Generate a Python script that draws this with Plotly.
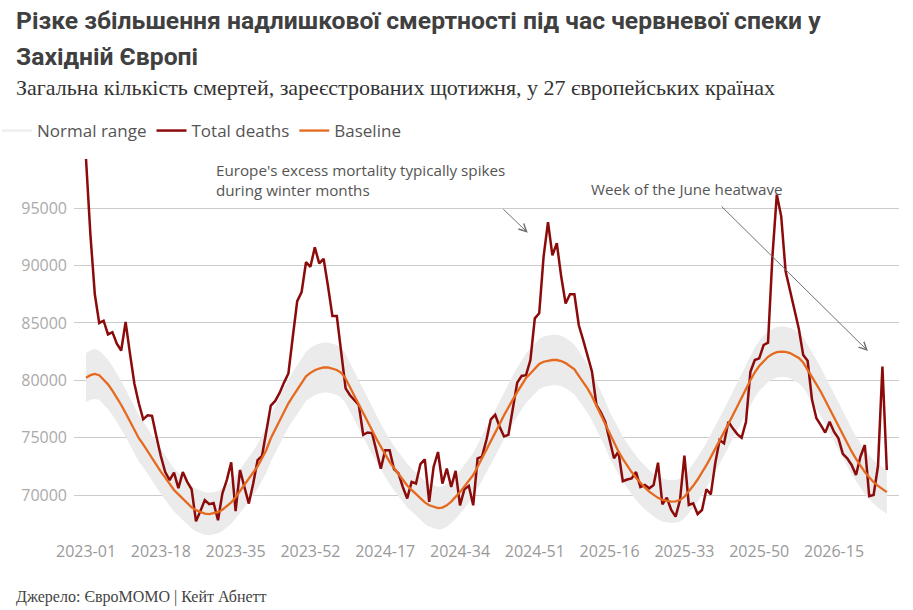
import plotly.graph_objects as go

# ---- data -------------------------------------------------------------
weeks = ([f"2023-{w:02d}" for w in range(1, 53)] +
         [f"2024-{w:02d}" for w in range(1, 53)] +
         [f"2025-{w:02d}" for w in range(1, 53)] +
         [f"2026-{w:02d}" for w in range(1, 28)])

total_deaths = [
    99300, 92700, 87500, 85000, 85200, 84000, 84200, 83200, 82600, 85100,
    82300, 79700, 78000, 76600, 76950, 76900, 75100, 73400, 72000, 71300,
    71950, 70600, 72000, 71150, 70500, 67700, 68600, 69560, 69200, 69300,
    67800, 70150, 71300, 72850, 68600, 72180, 70700, 69250, 71000, 73050,
    73400, 75800, 77800, 78200, 78900, 79800, 80600, 83800, 86900, 87700,
    90300, 89900, 91600, 90200, 90600, 88200, 85600, 85600, 82600, 79300,
    78700, 78300, 77850, 75250, 75450, 75400, 73900, 72300, 73900, 73900,
    72250, 71900, 70700, 69700, 71150, 71000, 72700, 73100, 69400, 72450,
    73750, 71000, 72300, 70700, 72100, 69100, 70500, 70800, 69100, 73200,
    73350, 74800, 76600, 77000, 75950, 75100, 75250, 77550, 79800, 80380,
    80450, 81770, 85400, 85850, 90800, 93800, 90900, 91950, 89050, 86700,
    87500, 87500, 84800, 83500, 82050, 80750, 77850, 77200, 76400, 74800,
    73200, 73780, 71200, 71350, 71450, 72000, 70700, 70870, 70580, 70870,
    72820, 69190, 69770, 68690, 68110, 69560, 73430, 69130, 69270, 68340,
    68690, 70500, 70060, 72760, 74790, 74500, 76390, 75810, 75310, 74990,
    76390, 80750, 81770, 81920, 83080, 83280, 90800, 96200, 94300, 89500,
    87800, 86200, 84500, 82200, 81700, 78300, 76700, 76100, 75440, 76390,
    75520, 74940, 73580, 73200, 72620, 71740, 73340, 74360, 69900, 70000,
    72550, 81190, 72180,
]

baseline = [
    80230, 80450, 80550, 80450, 80050, 79650, 79100, 78500, 77850, 77150,
    76400, 75650, 74950, 74420, 73810, 73200, 72590, 72040, 71510, 70970,
    70440, 70060, 69670, 69290, 68930, 68680, 68500, 68380, 68340, 68390,
    68500, 68720, 69000, 69350, 69800, 70350, 70850, 71350, 71900, 72500,
    73200, 73950, 74950, 75700, 76460, 77230, 78000, 78600, 79200, 79800,
    80350, 80650, 80880, 81030, 81120, 81120, 81040, 80900, 80650, 80150,
    79400, 78630, 77880, 77120, 76360, 75600, 74910, 74220, 73530, 72890,
    72350, 71820, 71290, 70830, 70440, 70060, 69670, 69350, 69100, 68950,
    68860, 68900, 69100, 69420, 69800, 70250, 70750, 71250, 71740, 72470,
    73190, 73920, 74650, 75420, 76180, 76950, 77680, 78320, 78970, 79620,
    80200, 80600, 81050, 81420, 81620, 81720, 81770, 81770, 81680, 81500,
    81220, 80950, 80380, 79830, 79280, 78600, 77800, 77000, 76200, 75250,
    74500, 73800, 73150, 72550, 72000, 71500, 71050, 70650, 70300, 70000,
    69750, 69580, 69470, 69420, 69440, 69560, 69850, 70300, 70800, 71350,
    71950, 72600, 73300, 74000, 74700, 75450, 76200, 76950, 77750, 78500,
    79250, 80000, 80700, 81250, 81700, 82050, 82300, 82450, 82500, 82480,
    82380, 82200, 81950, 81550, 80950, 80300, 79650, 79000, 78250, 77500,
    76700, 75950, 75200, 74500, 73800, 73150, 72550, 72000, 71550, 71120,
    70800, 70500, 70250,
]

# half-width of the "normal range" band around the baseline
normal_range_halfwidth = [
    2150, 2150, 2180, 2150, 2150, 2150, 2120, 2120, 2100, 2070,
    2040, 2040, 2020, 1990, 1990, 1960, 1960, 1930, 1930, 1910,
    1880, 1880, 1880, 1860, 1860, 1860, 1860, 1850, 1850, 1850,
    1860, 1860, 1860, 1860, 1880, 1880, 1910, 1910, 1930, 1960,
    1960, 1990, 2020, 2040, 2040, 2070, 2100, 2120, 2120, 2150,
    2150, 2180, 2180, 2180, 2180, 2180, 2180, 2180, 2180, 2150,
    2120, 2120, 2100, 2070, 2040, 2040, 2020, 1990, 1990, 1960,
    1930, 1930, 1910, 1910, 1880, 1880, 1880, 1860, 1860, 1860,
    1860, 1860, 1860, 1860, 1880, 1880, 1910, 1910, 1930, 1930,
    1960, 1990, 2020, 2020, 2040, 2070, 2100, 2100, 2120, 2150,
    2150, 2180, 2180, 2180, 2200, 2200, 2200, 2200, 2200, 2200,
    2180, 2180, 2150, 2150, 2120, 2120, 2100, 2070, 2040, 2020,
    2020, 1990, 1960, 1960, 1930, 1930, 1910, 1910, 1880, 1880,
    1880, 1880, 1860, 1860, 1860, 1880, 1880, 1880, 1910, 1910,
    1930, 1960, 1960, 1990, 2020, 2020, 2040, 2070, 2100, 2120,
    2120, 2150, 2180, 2180, 2200, 2200, 2200, 2200, 2200, 2200,
    2200, 2200, 2200, 2200, 2180, 2150, 2150, 2120, 2100, 2070,
    2070, 2040, 2020, 2020, 1990, 1960, 1960, 1930, 1930, 1910,
    1910, 1880, 1880,
]

tick_labels = ["2023-01", "2023-18", "2023-35", "2023-52", "2024-17", "2024-34",
               "2024-51", "2025-16", "2025-33", "2025-50", "2026-15"]
y_ticks = [70000, 75000, 80000, 85000, 90000, 95000]

range_low = [b - h for b, h in zip(baseline, normal_range_halfwidth)]
range_high = [b + h for b, h in zip(baseline, normal_range_halfwidth)]

# ---- styles -----------------------------------------------------------
BAND = "#ebebeb"
RED = "#8b0a0a"
ORANGE = "#e5691e"
SANS = "Open Sans, Lato, sans-serif"
SERIF = "Liberation Serif, DejaVu Serif, serif"
LEFT = -0.0727  # paper x for left-aligned header/footer texts

fig = go.Figure()
fig.add_trace(go.Scatter(x=weeks, y=range_low, mode="lines", line=dict(width=0),
                         showlegend=False, hoverinfo="skip"))
fig.add_trace(go.Scatter(x=weeks, y=range_high, mode="lines", line=dict(width=0),
                         fill="tonexty", fillcolor=BAND, showlegend=False,
                         hoverinfo="skip"))
# legend entry for the band
fig.add_trace(go.Scatter(x=[None], y=[None], mode="lines", name="Normal range",
                         line=dict(color="#eeeeee", width=2.5)))
fig.add_trace(go.Scatter(x=weeks, y=total_deaths, mode="lines", name="Total deaths",
                         line=dict(color=RED, width=2.5)))
fig.add_trace(go.Scatter(x=weeks, y=baseline, mode="lines", name="Baseline",
                         line=dict(color=ORANGE, width=2.3)))

fig.update_layout(
    width=913, height=610,
    margin=dict(l=74, r=14, t=150, b=70, autoexpand=False),
    plot_bgcolor="white", paper_bgcolor="white",
    showlegend=True,
    legend=dict(orientation="h", x=-0.0933, xanchor="left", y=1.0487,
                yanchor="middle", font=dict(family=SANS, size=17, color="#555555"),
                itemwidth=30, bgcolor="rgba(0,0,0,0)", traceorder="normal"),
    xaxis=dict(type="category", range=[-2.73, 184.77], showgrid=False,
               zeroline=False, showline=False, ticks="", automargin=False,
               tickmode="array", tickvals=tick_labels, ticktext=tick_labels,
               tickfont=dict(family=SANS, size=16, color="#999999")),
    yaxis=dict(range=[66076, 100084], showgrid=True, gridcolor="#cccccc",
               gridwidth=1, zeroline=False, showline=False, ticks="",
               ticklabelstandoff=6, automargin=False,
               tickmode="array", tickvals=y_ticks,
               ticktext=[str(v) for v in y_ticks],
               tickfont=dict(family=SANS, size=16, color="#aaaaaa")),
    annotations=[
        dict(text="Різке збільшення надлишкової смертності під час червневої спеки у",
             xref="paper", yref="paper", x=LEFT, y=1.3333, xanchor="left",
             yanchor="middle", showarrow=False,
             font=dict(family="Roboto, sans-serif", size=24.7, color="#404040",
                       weight="bold")),
        dict(text="Західній Європі",
             xref="paper", yref="paper", x=LEFT, y=1.241, xanchor="left",
             yanchor="middle", showarrow=False,
             font=dict(family="Roboto, sans-serif", size=24.7, color="#404040",
                       weight="bold")),
        dict(text="Загальна кількість смертей, зареєстрованих щотижня, у 27 європейських країнах",
             xref="paper", yref="paper", x=LEFT, y=1.159, xanchor="left",
             yanchor="middle", showarrow=False,
             font=dict(family=SERIF, size=22, color="#333333")),
        dict(text="Джерело: ЄвроМОМО | Кейт Абнетт",
             xref="paper", yref="paper", x=LEFT, y=-0.146, xanchor="left",
             yanchor="middle", showarrow=False,
             font=dict(family=SERIF, size=16, color="#444444")),
        dict(text="Europe's excess mortality typically spikes<br>during winter months",
             xref="x", yref="y", x=29.0, y=97470, xanchor="left", yanchor="middle",
             align="left", showarrow=False,
             font=dict(family=SANS, size=15.2, color="#555555")),
        dict(text="Week of the June heatwave",
             xref="x", yref="y", x=136.5, y=96680, xanchor="center",
             yanchor="middle", showarrow=False,
             font=dict(family=SANS, size=15.2, color="#555555")),
        dict(text="", xref="x", yref="y", x=100.4, y=92870,
             axref="x", ayref="y", ax=94.5, ay=95050, showarrow=True,
             arrowhead=5, arrowsize=1.5, arrowwidth=1, arrowcolor="#707070"),
        dict(text="", xref="x", yref="y", x=177.7, y=82560,
             axref="x", ayref="y", ax=144.1, ay=95290, showarrow=True,
             arrowhead=5, arrowsize=1.5, arrowwidth=1, arrowcolor="#707070"),
    ],
)

fig.write_html("out.html")
